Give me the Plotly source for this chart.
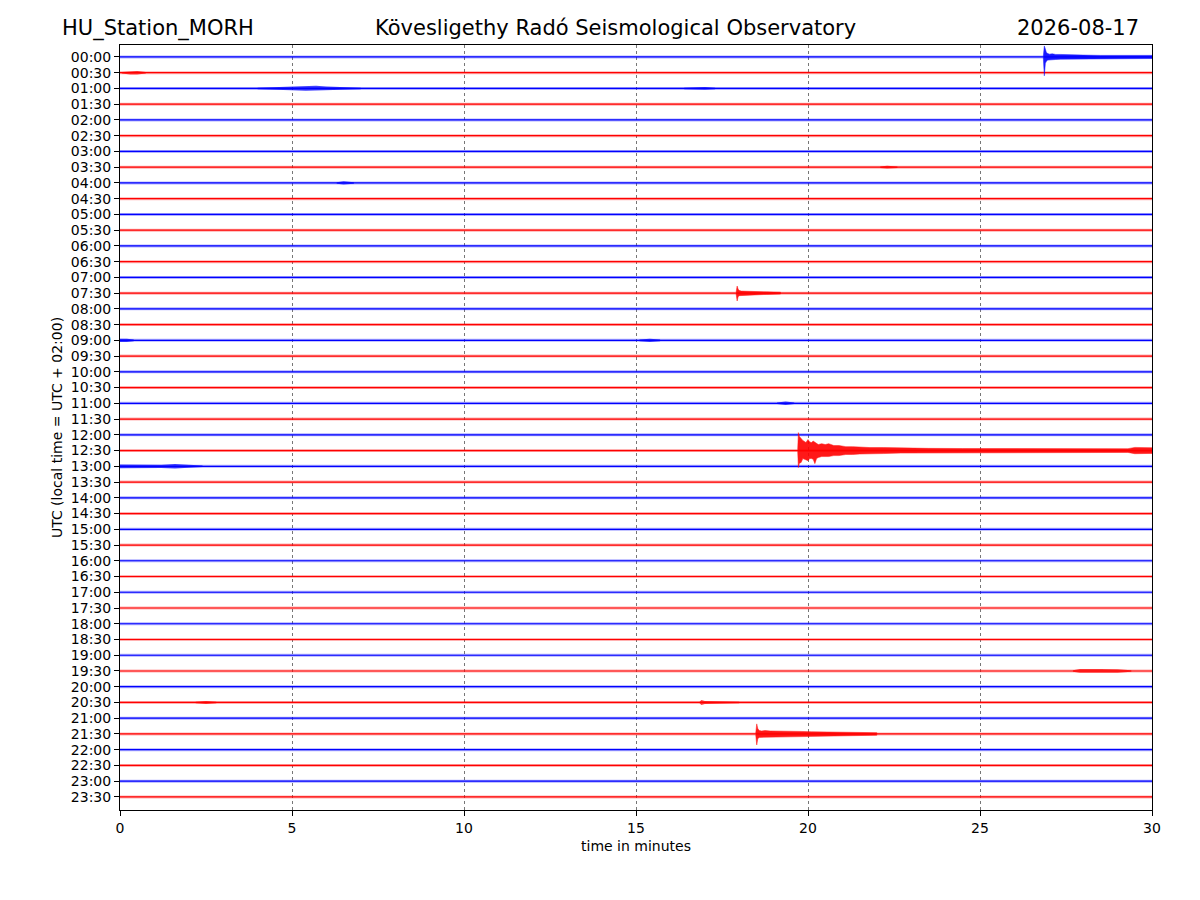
import plotly.graph_objects as go

# half-hour rows of the helicorder, 30 minutes each
ROW_LABELS = [
    "00:00", "00:30", "01:00", "01:30", "02:00", "02:30", "03:00", "03:30",
    "04:00", "04:30", "05:00", "05:30", "06:00", "06:30", "07:00", "07:30",
    "08:00", "08:30", "09:00", "09:30", "10:00", "10:30", "11:00", "11:30",
    "12:00", "12:30", "13:00", "13:30", "14:00", "14:30", "15:00", "15:30",
    "16:00", "16:30", "17:00", "17:30", "18:00", "18:30", "19:00", "19:30",
    "20:00", "20:30", "21:00", "21:30", "22:00", "22:30", "23:00", "23:30",
]
TRACE_COLORS = ["blue", "red"]
X_TICKS = [0, 5, 10, 15, 20, 25, 30]

# earthquakes
# (row, minutes, amplitude up, amplitude down) - amplitudes in row spacing units
QUAKES = [
    (0, [26.84, 26.87, 26.9, 26.93, 26.97, 27.02, 27.1, 27.2, 27.35, 27.5,
         27.7, 28.0, 28.5, 29.0, 29.5, 30.0],
        [0.05, 0.7, 0.5, 0.28, 0.22, 0.18, 0.2, 0.16, 0.16, 0.14,
         0.13, 0.12, 0.1, 0.1, 0.1, 0.1],
        [0.05, 1.2, 0.4, 0.28, 0.2, 0.18, 0.16, 0.16, 0.14, 0.13,
         0.12, 0.1, 0.1, 0.1, 0.1, 0.1]),
    (15, [17.91, 17.94, 17.97, 18.01, 18.06, 18.15, 18.3, 18.5, 18.8, 19.2],
         [0.05, 0.45, 0.25, 0.16, 0.13, 0.12, 0.12, 0.1, 0.08, 0.06],
         [0.05, 0.5, 0.22, 0.16, 0.13, 0.12, 0.1, 0.1, 0.08, 0.06]),
    (25, [19.70, 19.72, 19.75, 19.8, 19.85, 19.94, 20.0, 20.05, 20.1, 20.15,
          20.2, 20.25, 20.3, 20.4, 20.5, 20.6, 20.75, 20.9, 21.1, 21.3,
          21.5, 21.8, 22.2, 22.7, 23.5, 24.5, 25.5, 26.5, 27.5, 28.5,
          29.3, 29.5, 29.8, 30.0],
         [0.05, 1.14, 0.9, 0.76, 0.64, 0.51, 0.7, 0.55, 0.51, 0.6,
          0.51, 0.45, 0.38, 0.44, 0.38, 0.44, 0.32, 0.32, 0.25, 0.25,
          0.22, 0.19, 0.19, 0.16, 0.14, 0.13, 0.13, 0.12, 0.12, 0.12,
          0.12, 0.2, 0.2, 0.18],
         [0.05, 1.08, 0.8, 0.76, 0.51, 0.57, 0.64, 0.5, 0.51, 0.55,
          0.83, 0.5, 0.44, 0.38, 0.38, 0.38, 0.32, 0.32, 0.25, 0.25,
          0.22, 0.19, 0.19, 0.16, 0.14, 0.13, 0.13, 0.12, 0.12, 0.12,
          0.12, 0.2, 0.2, 0.18]),
    (43, [18.48, 18.51, 18.54, 18.58, 18.65, 18.75, 18.9, 19.1, 19.4, 19.8,
          20.1, 20.6, 21.2, 22.0],
         [0.05, 0.64, 0.35, 0.22, 0.19, 0.22, 0.19, 0.19, 0.16, 0.16,
          0.14, 0.13, 0.11, 0.08],
         [0.05, 0.7, 0.3, 0.22, 0.19, 0.19, 0.19, 0.16, 0.16, 0.14,
          0.14, 0.12, 0.11, 0.08]),
]

# weaker noise bursts: (row, minutes, half amplitude)
BURSTS = [
    (1, [0.05, 0.3, 0.5, 0.75], [0.05, 0.11, 0.11, 0.05]),
    (2, [4.0, 4.5, 5.0, 5.4, 5.7, 6.0, 6.3, 7.0], [0.05, 0.08, 0.12, 0.15, 0.17, 0.12, 0.09, 0.05]),
    (2, [16.4, 16.7, 17.0, 17.3], [0.05, 0.09, 0.09, 0.05]),
    (7, [22.1, 22.3, 22.6], [0.05, 0.09, 0.05]),
    (8, [6.3, 6.5, 6.8], [0.05, 0.1, 0.05]),
    (18, [0.0, 0.2, 0.4], [0.1, 0.1, 0.05]),
    (18, [15.1, 15.4, 15.7], [0.05, 0.11, 0.05]),
    (22, [19.1, 19.35, 19.6], [0.05, 0.11, 0.05]),
    (26, [0.0, 0.5, 1.2, 1.6, 1.9, 2.4], [0.12, 0.11, 0.1, 0.14, 0.12, 0.05]),
    (39, [27.7, 27.9, 28.5, 29.0, 29.4], [0.05, 0.12, 0.12, 0.11, 0.05]),
    (41, [2.2, 2.5, 2.8], [0.05, 0.09, 0.05]),
    (41, [16.85, 16.9, 17.0, 17.5, 18.0], [0.05, 0.16, 0.1, 0.08, 0.05]),
]

fig = go.Figure()

# flat traces with a faint noise fringe
for i, lab in enumerate(ROW_LABELS):
    col = TRACE_COLORS[i % 2]
    fig.add_trace(go.Scatter(
        x=[0, 30], y=[i, i], mode="lines", opacity=0.3,
        line=dict(color=col, width=3),
        hoverinfo="skip", showlegend=False,
    ))
    fig.add_trace(go.Scatter(
        x=[0, 30], y=[i, i], mode="lines",
        line=dict(color=col, width=1.2),
        hoverinfo="skip", showlegend=False,
    ))

# earthquakes drawn as filled envelopes around the trace
for row, t, up, down in QUAKES:
    xs = list(t) + list(reversed(t))
    ys = [row - a for a in up] + [row + a for a in reversed(down)]
    fig.add_trace(go.Scatter(
        x=xs, y=ys, mode="lines", fill="toself", opacity=0.9,
        fillcolor=TRACE_COLORS[row % 2],
        line=dict(color=TRACE_COLORS[row % 2], width=0.5),
        hoverinfo="skip", showlegend=False,
    ))

for row, t, amp in BURSTS:
    xs = list(t) + list(reversed(t))
    ys = [row - a for a in amp] + [row + a for a in reversed(amp)]
    fig.add_trace(go.Scatter(
        x=xs, y=ys, mode="lines", fill="toself", opacity=0.75,
        fillcolor=TRACE_COLORS[row % 2],
        line=dict(color=TRACE_COLORS[row % 2], width=0),
        hoverinfo="skip", showlegend=False,
    ))

fnt = dict(family="DejaVu Sans", size=14, color="black")

# the page body has an 8px margin, so the margins are shifted by 8
fig.update_layout(
    width=1200, height=900,
    margin=dict(l=112, r=56, t=37, b=98),
    plot_bgcolor="white", paper_bgcolor="white",
    font=fnt,
    xaxis=dict(
        range=[0, 30], tickvals=X_TICKS, ticks="outside", ticklen=5,
        tickcolor="black", showline=True, linecolor="black", linewidth=1,
        mirror=True, showgrid=True, gridcolor="#777", gridwidth=0.7,
        griddash="dot", zeroline=False,
        title=dict(text="time in minutes", font=dict(size=14), standoff=6),
    ),
    yaxis=dict(
        range=[47.83, -0.76], tickvals=list(range(len(ROW_LABELS))),
        ticktext=ROW_LABELS, ticks="outside", ticklen=5, tickcolor="black",
        showline=True, linecolor="black", linewidth=1, mirror=True,
        showgrid=False, zeroline=False,
        title=dict(text="UTC (local time = UTC + 02:00)", font=dict(size=14), standoff=4),
    ),
    annotations=[
        dict(text="HU_Station_MORH", x=-0.058, y=1.022, xref="paper", yref="paper",
             xanchor="left", yanchor="middle", showarrow=False, font=dict(size=21)),
        dict(text="Kövesligethy Radó Seismological Observatory", x=0.4797, y=1.022,
             xref="paper", yref="paper", xanchor="center", yanchor="middle",
             showarrow=False, font=dict(size=21)),
        dict(text="2026-08-17", x=0.989, y=1.022, xref="paper", yref="paper",
             xanchor="right", yanchor="middle", showarrow=False, font=dict(size=21)),
    ],
)

fig.write_html("out.html")
